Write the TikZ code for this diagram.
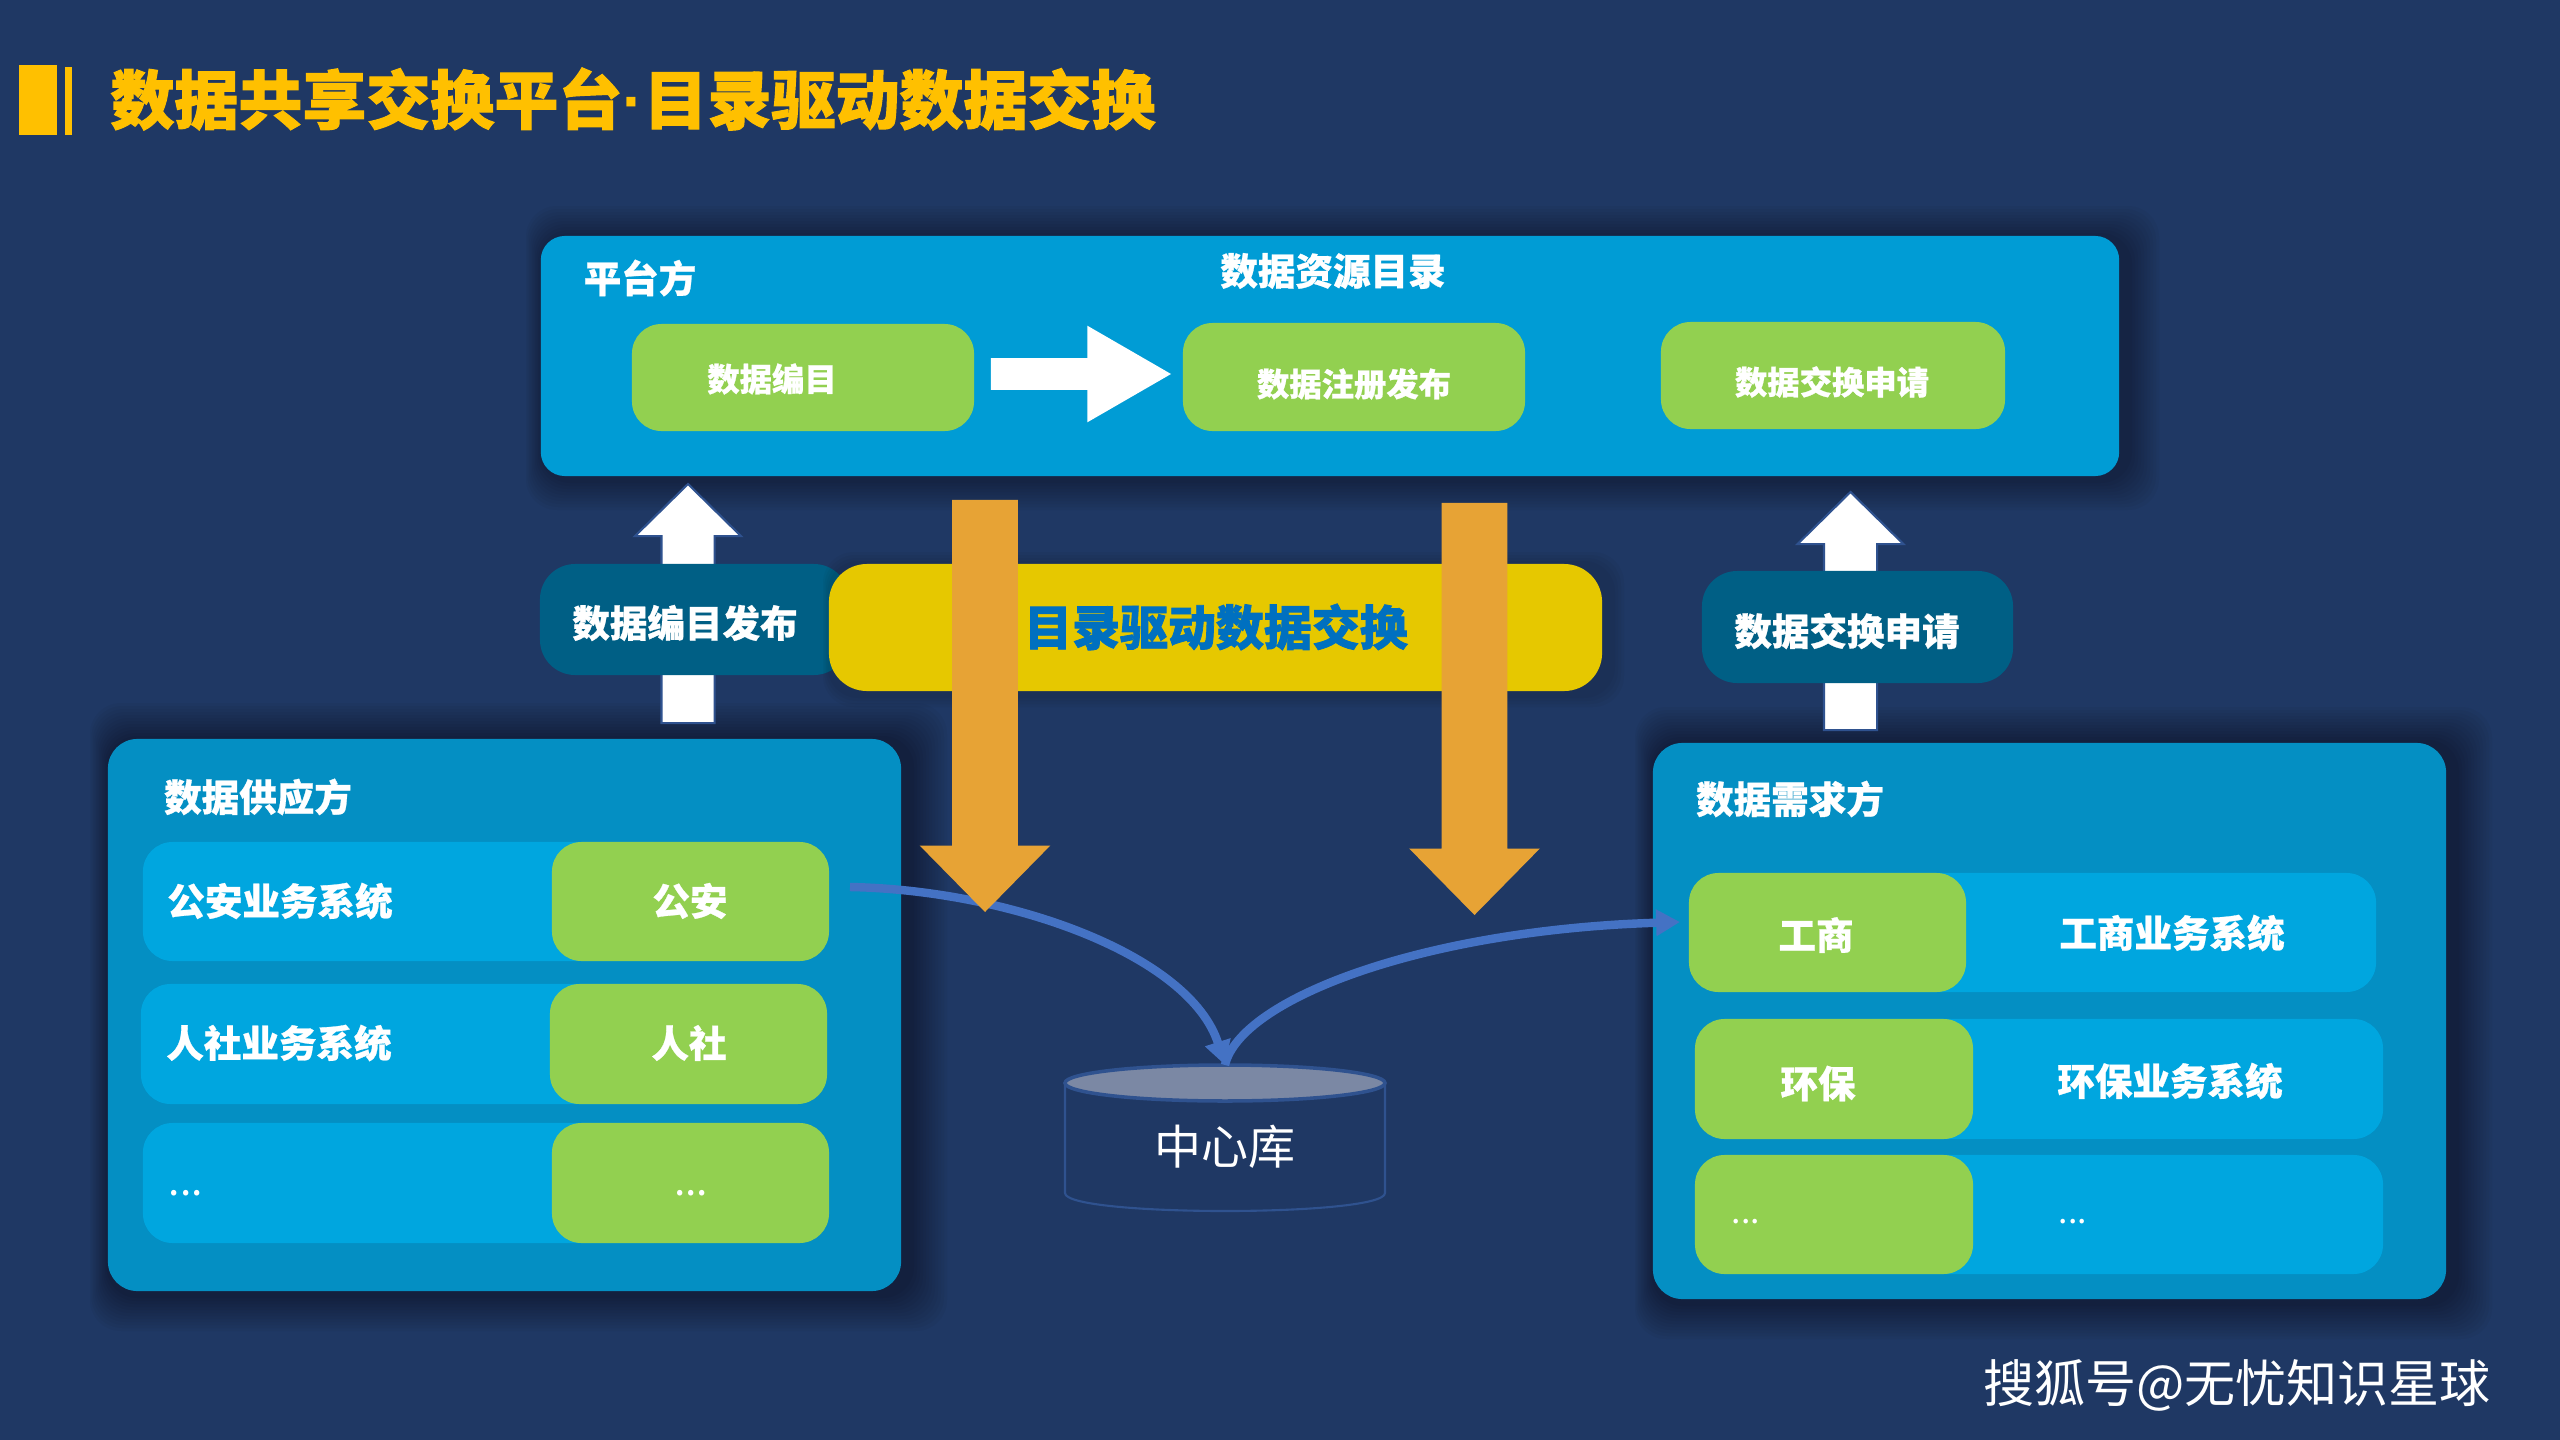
\documentclass[tikz,border=0pt]{standalone}
\usepackage{fontspec}
\setmainfont{Noto Sans CJK SC}[BoldFeatures={FakeBold=0.7}]
\newfontfamily\heavyfont{Noto Sans CJK SC}[BoldFeatures={FakeBold=1.6}]
\newfontfamily\latinfont{Liberation Sans}
\usepackage{tikz}
\usetikzlibrary{shapes.arrows, arrows.meta}

\definecolor{slide}{HTML}{1F3864}
\definecolor{titlegold}{HTML}{FFC000}
\definecolor{topblue}{HTML}{009CD5}
\definecolor{sideblue}{HTML}{048FC3}
\definecolor{rowblue}{HTML}{00A6DF}
\definecolor{leaf}{HTML}{92D050}
\definecolor{tealbox}{HTML}{005F85}
\definecolor{busyellow}{HTML}{E6C800}
\definecolor{busblue}{HTML}{0070C0}
\definecolor{drop}{HTML}{E7A335}
\definecolor{flowblue}{HTML}{4472C4}
\definecolor{rim}{HTML}{2F528F}
\definecolor{lidgrey}{HTML}{7B88A4}

\def\px{0.7113pt}
\newcommand{\softshade}[5]{%
  \foreach \g in {3,6,...,#5}
    \fill[black, opacity=0.03, rounded corners=22pt] (#1-0.5*\g,#2-\g) rectangle (#3+\g+10,#4+\g+4);}

\begin{document}
\begin{tikzpicture}[
    x=0.025cm, y=-0.025cm,
    box/.style={rectangle, inner sep=0pt, outer sep=0pt, minimum width=#1*\px},
    side/.style={box=#1, fill=sideblue, rounded corners=21pt},
    row/.style={box=#1, fill=rowblue, minimum height=119*\px, rounded corners=21pt},
    leafbox/.style={box=#1, fill=leaf, minimum height=119*\px, rounded corners=21pt},
    teal/.style={box=#1, fill=tealbox, minimum height=111*\px, rounded corners=25pt},
    head/.style={text=white, font=\fontsize{26.7}{30}\selectfont\bfseries, inner sep=0pt},
    small/.style={text=white, font=\fontsize{23}{26}\selectfont\bfseries, inner sep=0pt},
    dots/.style={text=white, font=\fontsize{29}{32}\selectfont, inner sep=0pt},
    thindots/.style={text=white, font=\fontsize{24}{28}\selectfont, inner sep=0pt},
    block/.style={single arrow, inner xsep=0pt, outer sep=0pt, anchor=tip},
    uparrow/.style={block, rotate=90, fill=white, draw=rim, line width=1.5pt, inner ysep=25.5*\px,
        minimum height=#1*\px, single arrow head extend=26.5*\px, single arrow tip angle=91},
    droparrow/.style={block, rotate=-90, fill=drop, inner ysep=32.5*\px,
        minimum height=412*\px, single arrow head extend=32.5*\px, single arrow tip angle=89},
    flow/.style={draw=flowblue, line width=6pt, -{Triangle[length=17pt,width=18pt]}}
]

\fill[slide] (0,0) rectangle (2560,1440);
\useasboundingbox (0,0) rectangle (2560,1440);

% Title
\node[box=38, minimum height=70*\px, fill=titlegold] (barwide) at (38,100) {};
\node[box=7, minimum height=68*\px, fill=titlegold] (barthin) at (68.5,101) {};
\node[text=titlegold, inner sep=0pt, font=\fontsize{45.5}{50}\selectfont\heavyfont\bfseries] (title) at (633,99)
    {数据共享交换平台{\latinfont ·}目录驱动数据交换};

% Platform panel
\softshade{541}{236}{2119}{476}{30}
\node[box=1578, minimum height=240*\px, fill=topblue, rounded corners=17pt] (platform) at (1330,356) {};
\node[head] (platformname) at (640,278) {平台方};
\node[head] (catalog) at (1333,271) {数据资源目录};
\node[leafbox=342, minimum height=107*\px] (compile) at (803,377.5) {};
\node[small] (compiletext) at (772,379) {数据编目};
\node[leafbox=342, minimum height=108*\px] (publish) at (1354,377) {};
\node[small] (publishtext) at (1354,384) {数据注册发布};
\node[leafbox=344, minimum height=107*\px] (apply) at (1833,375.5) {};
\node[small] (applytext) at (1832,382) {数据交换申请};
\node[block, fill=white, inner ysep=15.5*\px, minimum height=180*\px,
    single arrow head extend=32.5*\px, single arrow tip angle=60] (nextstep) at (1171,374) {};

% Supplier panel
\softshade{108}{739}{901}{1291}{36}
\node[side=793, minimum height=552*\px] (supplier) at (504.5,1015) {};
\node[head] (suppliername) at (258,797) {数据供应方};
\node[row=540] (policerow) at (413,901.5) {};
\node[row=540, minimum height=120*\px] (socialrow) at (411,1044) {};
\node[row=540, minimum height=120*\px] (morerow) at (413,1183) {};
\node[leafbox=277] (police) at (690.5,901.5) {};
\node[leafbox=277, minimum height=120*\px] (social) at (688.5,1044) {};
\node[leafbox=277, minimum height=120*\px] (moreleft) at (690.5,1183) {};
\node[head] (policesys) at (280,901) {公安业务系统};
\node[head] (socialsys) at (279,1043) {人社业务系统};
\node[dots] (moredots) at (186,1193) {...};
\node[head] (policename) at (690,901) {公安};
\node[head] (socialname) at (689,1043) {人社};
\node[dots] (moredotsb) at (691,1193) {...};

% Consumer panel
\softshade{1653}{743}{2446}{1299}{36}
\node[side=793, minimum height=556*\px] (consumer) at (2049.5,1021) {};
\node[head] (consumername) at (1790,799) {数据需求方};
\node[row=540] (traderow) at (2106,932.5) {};
\node[row=540, minimum height=120*\px] (envrow) at (2113,1079) {};
\node[row=540] (extrarow) at (2113,1214.5) {};
\node[leafbox=277] (trade) at (1827.5,932.5) {};
\node[leafbox=278, minimum height=120*\px] (env) at (1834,1079) {};
\node[leafbox=278] (extra) at (1834,1214.5) {};
\node[head] (tradename) at (1816,935) {工商};
\node[head] (tradesys) at (2172,933) {工商业务系统};
\node[head] (envname) at (1818,1083.5) {环保};
\node[head] (envsys) at (2170,1081) {环保业务系统};
\node[thindots] (extradots) at (1746,1222) {...};
\node[thindots] (extradotsb) at (2073,1222) {...};

% Upward arrows with their tags
\node[uparrow=239] (uploadarrow) at (688,484) {};
\node[uparrow=238] (requestarrow) at (1850.5,492) {};
\node[teal=309] (uploadtag) at (694.5,619.5) {};
\node[head] (uploadtext) at (685,623) {数据编目发布};
\node[teal=311, minimum height=112*\px] (requesttag) at (1857.5,627) {};
\node[head] (requesttext) at (1847,631) {数据交换申请};

% Central store
\draw[draw=rim, line width=1.5pt] (1065,1083) -- (1065,1193)
    .. controls (1065,1217) and (1385,1217) .. (1385,1193) -- (1385,1083);
\draw[draw=rim, line width=2.5pt, fill=lidgrey] (1225,1083) ellipse [x radius=160, y radius=18];
\node[box=320, minimum height=147*\px] (store) at (1225,1138.5) {};
\node[text=white, inner sep=0pt, font=\fontsize{33.4}{38}\selectfont] (storetext) at (1225,1147) {中心库};

% Yellow band and drops
\softshade{829}{564}{1602}{691}{12}
\node[box=773, minimum height=127*\px, fill=busyellow, rounded corners=27pt] (band) at (1215.5,627.5) {};
\node[text=busblue, inner sep=0pt, font=\fontsize{34.1}{38}\selectfont\heavyfont\bfseries] (bandtext) at (1216,627) {目录驱动数据交换};

\coordinate (flowstart) at (850,887);
\coordinate (flowend) at (1680,922);
\draw[flow] (flowstart) .. controls (1010,890) and (1190,955) .. (store.north);
\draw[flow] (store.north) .. controls (1240,1000) and (1420,930) .. (flowend);

\node[droparrow] (dropleft) at (985,912) {};
\node[droparrow] (dropright) at (1474.5,915) {};

% Watermark
\node[text=white, inner sep=0pt, font=\fontsize{36.3}{40}\selectfont] (mark) at (2237,1385) {搜狐号@无忧知识星球};

\end{tikzpicture}
\end{document}
